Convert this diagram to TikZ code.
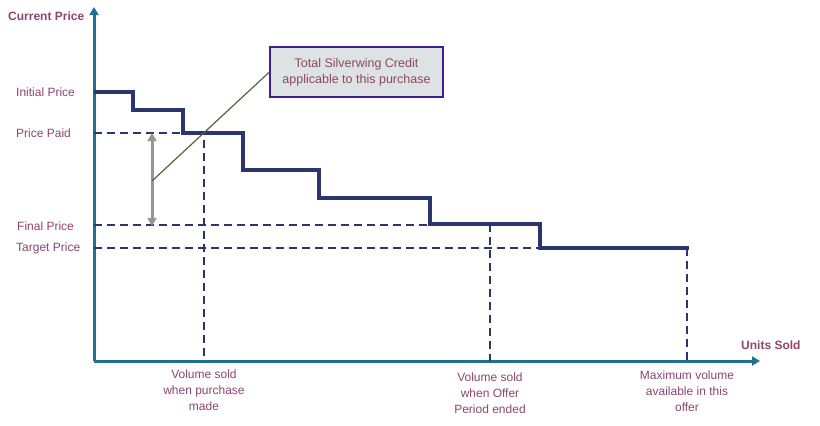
\documentclass[tikz,border=0pt]{standalone}
\usepackage{fontspec}
\setmainfont{Liberation Sans}
\usetikzlibrary{arrows.meta}
\definecolor{txt}{RGB}{140,70,105}
\definecolor{axisc}{RGB}{31,112,145}
\definecolor{navy}{RGB}{43,53,112}
\definecolor{boxfill}{RGB}{221,227,227}
\definecolor{boxline}{RGB}{60,30,150}
\definecolor{callc}{RGB}{95,95,60}
\definecolor{grayarr}{RGB}{150,150,150}
\tikzset{
  lbl/.style={text=txt,font=\fontsize{12}{16}\selectfont,inner sep=0pt},
  blbl/.style={text=txt,font=\fontsize{12}{16}\selectfont\bfseries,inner sep=0pt},
  axisline/.style={axisc,line width=3pt,-{Triangle[width=9pt,length=8pt]}},
  stepline/.style={navy,line width=4.5pt,line join=miter},
  dashline/.style={navy,line width=2.4pt,dash pattern=on 8pt off 5pt},
  credit/.style={grayarr,line width=3pt,{Triangle[width=9pt,length=8pt]}-{Triangle[width=9pt,length=8pt]}},
  calloutline/.style={callc,line width=1.2pt},
  notebox/.style={draw=boxline,fill=boxfill,line width=1.2pt,minimum width=173pt,minimum height=50pt,align=center,text=txt,font=\fontsize{12.5}{16}\selectfont,inner sep=2pt}
}
\begin{document}
\begin{tikzpicture}[x=1pt,y=-1pt]
\useasboundingbox (0,0) rectangle (820,426);
% coordinates
\coordinate (O) at (94,361);
\coordinate (ytop) at (94,7);
\coordinate (xend) at (760,361);
% axes
\draw[axisline] (O) -- (ytop);
\draw[axisline] (O) -- (xend);
% labels of axes
\node[blbl,anchor=west] (cp) at (8,16) {Current Price};
\node[blbl,anchor=west] (us) at (741,345) {Units Sold};
% dashed guides
\coordinate (pp0) at (94,133);
\coordinate (pp1) at (204,133);
\coordinate (pp2) at (204,361);
\coordinate (fp0) at (94,225);
\coordinate (fp1) at (430,225);
\coordinate (fpv0) at (490,224);
\coordinate (fpv1) at (490,361);
\coordinate (tp0) at (94,248);
\coordinate (tp1) at (540,248);
\coordinate (mv0) at (687,248);
\coordinate (mv1) at (687,361);
\draw[dashline] (pp0) -- (pp1) -- (pp2);
\draw[dashline] (fp0) -- (fp1);
\draw[dashline] (fpv0) -- (fpv1);
\draw[dashline] (tp0) -- (tp1);
\draw[dashline] (mv0) -- (mv1);
% step price line
\draw[stepline] (94,92) -| (133,110) -| (183,133) -| (243,170) -| (319,198) -| (430,224) -| (540,248) -- (689,248);
% credit arrow
\coordinate (ca) at (152,133);
\coordinate (cb) at (152,226);
\draw[credit] (ca) -- (cb);
% callout box
\node[notebox] (box) at (356.5,72) {Total Silverwing Credit\\applicable to this purchase};
\coordinate (cstart) at (152,181);
\draw[calloutline] (cstart) -- (box.west);
% left labels
\node[lbl,anchor=west] (ip) at (16,92) {Initial Price};
\node[lbl,anchor=west] (ppl) at (16,133) {Price Paid};
\node[lbl,anchor=west] (fpl) at (17,226) {Final Price};
\node[lbl,anchor=west] (tpl) at (16,248) {Target Price};
% bottom labels
\node[lbl,align=center,anchor=north] (b1) at (204,370) {Volume sold\\when purchase\\made};
\node[lbl,align=center,anchor=north] (b2) at (490,373) {Volume sold\\when Offer\\Period ended};
\node[lbl,align=center,anchor=north] (b3) at (687,371) {Maximum volume\\available in this\\offer};
\end{tikzpicture}
\end{document}
